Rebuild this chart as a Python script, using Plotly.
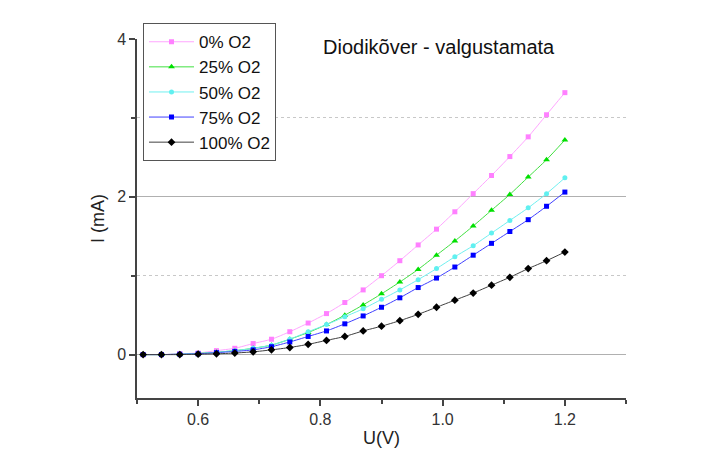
import plotly.graph_objects as go

U = [0.51, 0.54, 0.57, 0.60, 0.63, 0.66, 0.69, 0.72, 0.75, 0.78, 0.81, 0.84,
     0.87, 0.90, 0.93, 0.96, 0.99, 1.02, 1.05, 1.08, 1.11, 1.14, 1.17, 1.20]

I_0 = [0.0, 0.0, 0.01, 0.02, 0.05, 0.08, 0.14, 0.195, 0.29, 0.40, 0.52, 0.66,
       0.82, 1.00, 1.19, 1.39, 1.59, 1.81, 2.04, 2.27, 2.51, 2.76, 3.04, 3.32]
I_25 = [0.0, 0.0, 0.005, 0.015, 0.03, 0.05, 0.08, 0.12, 0.195, 0.28, 0.38, 0.50,
        0.63, 0.77, 0.92, 1.08, 1.26, 1.44, 1.63, 1.83, 2.03, 2.25, 2.47, 2.72]
I_50 = [0.0, 0.0, 0.005, 0.015, 0.03, 0.05, 0.08, 0.12, 0.195, 0.29, 0.38, 0.48,
        0.58, 0.70, 0.82, 0.95, 1.09, 1.24, 1.38, 1.54, 1.70, 1.86, 2.04, 2.24]
I_75 = [0.0, 0.0, 0.005, 0.01, 0.025, 0.04, 0.06, 0.10, 0.16, 0.23, 0.30, 0.39,
        0.49, 0.60, 0.72, 0.85, 0.97, 1.11, 1.26, 1.41, 1.56, 1.71, 1.88, 2.06]
I_100 = [0.0, 0.0, 0.0, 0.005, 0.01, 0.02, 0.035, 0.06, 0.09, 0.13, 0.18, 0.23,
         0.30, 0.36, 0.43, 0.51, 0.60, 0.69, 0.78, 0.88, 0.98, 1.09, 1.19, 1.30]

series = [
    ("0% O2", I_0, "#ff80ff", "#ffa6ff", "square", 5),
    ("25% O2", I_25, "#00e000", "#40e040", "triangle-up", 6),
    ("50% O2", I_50, "#60f0f0", "#70f0f0", "circle", 5),
    ("75% O2", I_75, "#0000ff", "#4040ff", "square", 5),
    ("100% O2", I_100, "#000000", "#404040", "diamond", 6),
]

FONT = "Liberation Sans, Arial, sans-serif"

fig = go.Figure()
for name, ys, mc, lc, sym, sz in series:
    fig.add_trace(go.Scatter(
        x=U, y=ys, name=name, mode="lines+markers",
        line=dict(color=lc, width=1, shape="spline", smoothing=0.6),
        marker=dict(color=mc, symbol=sym, size=sz, line=dict(width=0)),
    ))

fig.update_layout(
    width=711, height=457,
    margin=dict(l=137, r=85, t=39, b=56),
    paper_bgcolor="white", plot_bgcolor="white",
    font=dict(family=FONT, size=16, color="#222"),
    showlegend=True,
    legend=dict(
        x=0.0123, y=1.044, xanchor="left", yanchor="top",
        bordercolor="#555", borderwidth=1, bgcolor="white",
        font=dict(family=FONT, size=17, color="#111"),
        itemwidth=45, entrywidth=150, tracegroupgap=0,
    ),
    annotations=[dict(
        text="Diodikõver - valgustamata", x=0.618, y=1.015,
        xref="paper", yref="paper", showarrow=False,
        font=dict(family=FONT, size=20, color="#111"),
    )],
)

fig.update_xaxes(
    range=[0.5, 1.3], dtick=0.2, tick0=0.6, tickformat=".1f",
    showgrid=False, zeroline=False,
    showline=True, linecolor="#444", linewidth=1.5,
    ticks="outside", ticklen=6, tickwidth=1.5, tickcolor="#444",
    minor=dict(dtick=0.1, tick0=0.5, ticks="outside", ticklen=4, tickwidth=1.5, tickcolor="#444", showgrid=False),
    tickfont=dict(family=FONT, size=16, color="#333"),
    title=dict(text="U(V)", font=dict(family=FONT, size=18, color="#222"), standoff=4),
)
fig.update_yaxes(
    range=[-0.55, 4], dtick=2, tick0=0,
    showgrid=True, gridcolor="#b0b0b0", gridwidth=1,
    zeroline=False,
    showline=True, linecolor="#444", linewidth=1.5,
    ticks="outside", ticklen=6, tickwidth=1.5, tickcolor="#444",
    minor=dict(dtick=1, tick0=0, ticks="outside", ticklen=4, tickwidth=1.5, tickcolor="#444",
               showgrid=True, gridcolor="#c8c8c8", griddash="dot", gridwidth=1),
    tickfont=dict(family=FONT, size=16, color="#333"),
    title=dict(text="I (mA)", font=dict(family=FONT, size=18, color="#222"), standoff=8),
)

fig.write_html("out.html")
